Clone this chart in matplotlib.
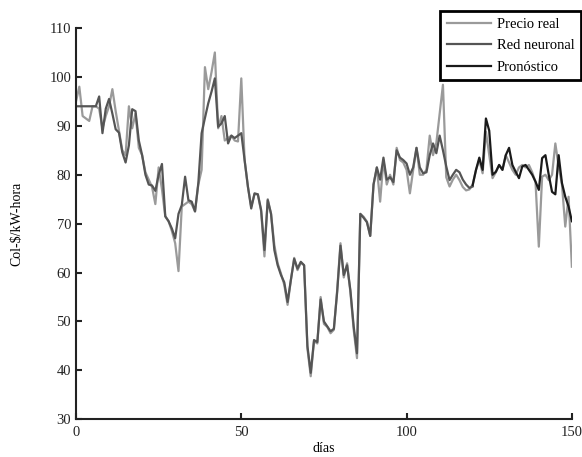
import numpy as np
import matplotlib.pyplot as plt

plt.rcParams['font.family'] = ['Liberation Serif', 'DejaVu Serif']

# Precio real, dias 0..150
precio_real = [95, 98, 92, 91.5, 91, 94, 94, 93.5, 89.5, 92,
               94, 97.5, 93, 89, 85, 84, 94, 89.5, 92.5, 85.5,
               84, 80.5, 79, 77.5, 74, 81.5, 77, 71.5, 70.5, 68.5,
               66, 60.3, 73.5, 74, 74.5, 74, 72.5, 78, 81, 102,
               97.5, 101, 105, 89.5, 92, 87, 87.5, 88, 87, 86.8,
               99.7, 83, 77.5, 73.5, 76, 76, 72.5, 63.3, 75, 72,
               65.6, 61.9, 59.8, 57.5, 53.4, 58.5, 63, 60.5, 62, 61.5,
               44.5, 38.8, 46, 45.5, 55, 49.5, 48.9, 47.6, 48.3, 56.4,
               66, 59, 61.9, 56, 48.3, 42.5, 72, 71.4, 70.4, 67.5,
               78, 81.5, 74.5, 83, 78, 80, 78, 85.5, 83, 82.5,
               81, 76.2, 81, 85.5, 80, 80, 81, 88, 84, 86.5,
               92.5, 98.4, 79.5, 77.6, 79, 80, 78.9, 77.5, 76.8, 77,
               78, 81, 83, 80.3, 88.8, 84, 79.3, 80.5, 82, 81,
               84, 82.5, 81, 80, 81.5, 82, 81.5, 82, 80.5, 78.5,
               65.3, 79.6, 80, 78.9, 80, 86.4, 81.7, 78, 69.4, 75.5,
               61.2]

# Red neuronal, dias 0..120
red_neuronal = [94, 94, 94, 94, 94, 94, 94, 96, 88.5, 93.5,
                95.5, 92.5, 89.3, 88.6, 84.6, 82.5, 86, 93.4, 93, 87,
                84, 80, 78, 77.8, 76.7, 80, 82.2, 71.5, 70.5, 69,
                67, 72, 73.8, 79.6, 74.8, 74.5, 72.5, 78.3, 88.5, 91.6,
                94.6, 97, 99.7, 89.8, 90.5, 92, 86.4, 88, 87.5, 88,
                88.5, 83, 77.6, 73.1, 76.2, 76, 72.8, 64.6, 74.8, 72,
                64.6, 61.5, 59.5, 58, 54, 58.5, 62.8, 60.8, 62.2, 61.5,
                45, 39.5, 46.2, 45.8, 54.5, 50, 49, 48, 48.5, 56,
                65.5, 59.5, 61.5, 56.4, 49, 43.5, 72, 71.2, 70.3, 67.5,
                78, 81.5, 79, 83.5, 79, 79.5, 78.5, 85, 83.5, 83,
                82.3, 80, 81.5, 85.5, 81.5, 80.3, 80.5, 84, 86.4, 84.4,
                88, 85, 81.7, 78.9, 80, 81, 80.5, 79, 78, 77.3,
                77.6]

# Pronostico, dias 120..150
pronostico = [77.9, 81, 83.5, 81, 91.5, 89, 80, 80.6, 82, 81,
              84, 85.5, 82, 80.6, 79.3, 81.7, 82, 81, 80, 78.6,
              76.9, 83.4, 84, 80, 76.5, 76, 84, 78.3, 75.5, 73.5,
              70.5]

dias_real = np.arange(len(precio_real))
dias_red = np.arange(len(red_neuronal))
dias_pron = np.arange(120, 120 + len(pronostico))

fig = plt.figure(figsize=(5.82, 4.57), dpi=100)
ax = fig.add_axes([0.1306, 0.0825, 0.8520, 0.8562])

ax.plot(dias_real, precio_real, color='#9a9a9a', lw=1.6, label='Precio real')
ax.plot(dias_red, red_neuronal, color='#555555', lw=1.6, label='Red neuronal')
ax.plot(dias_pron, pronostico, color='#1a1a1a', lw=1.6, label='Pronóstico')

ax.set_xlim(0, 150)
ax.set_ylim(30, 110)
ax.set_xticks([0, 50, 100, 150])
ax.set_yticks(range(30, 111, 10))
for s in ['top', 'right']:
    ax.spines[s].set_visible(False)
for s in ['left', 'bottom']:
    ax.spines[s].set_linewidth(1.5)
    ax.spines[s].set_color('#222222')
ax.tick_params(direction='in', length=4, width=1.5, labelsize=10.5, colors='#222222')
ax.tick_params(axis='x', pad=5)

ax.set_xlabel('días', fontsize=10, labelpad=2)
ax.set_ylabel('Col-$/kW-hora', fontsize=10, labelpad=19)

leg = ax.legend(loc='upper right', bbox_to_anchor=(0.999, 0.975),
                bbox_transform=fig.transFigure, fontsize=10.5,
                fancybox=False, framealpha=1, edgecolor='black',
                handlelength=3.0, handletextpad=0.45, labelspacing=0.55,
                borderpad=0.45, borderaxespad=0)
leg.get_frame().set_linewidth(2)

fig.savefig('out.png', dpi=100)
